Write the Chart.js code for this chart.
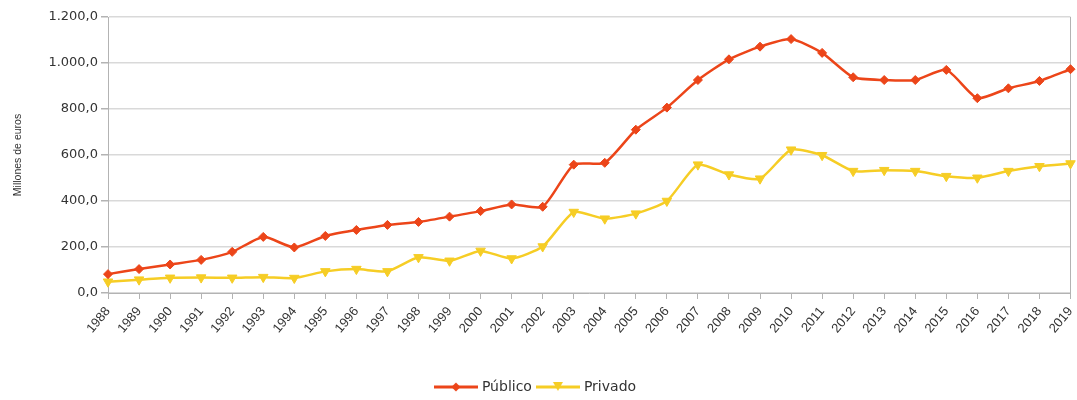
<!DOCTYPE html>
<html><head><meta charset="utf-8">
<script src="https://cdn.jsdelivr.net/npm/chart.js@4"></script>
<style>html,body{margin:0;padding:0;background:#fff}#wrap{width:1077px;height:400px}</style>
</head><body><div id="wrap"><canvas id="c"></canvas></div>
<script>
const years = ["1988","1989","1990","1991","1992","1993","1994","1995","1996","1997","1998","1999","2000","2001","2002","2003","2004","2005","2006","2007","2008","2009","2010","2011","2012","2013","2014","2015","2016","2017","2018","2019"];
const publico = [82,104,124,144,179,244,198,248,274,296,309,332,356,385,375,558,566,710,806,926,1016,1071,1104,1044,938,926,926,970,847,890,922,973];
const privado = [49,58,66,67,66,69,65,94,104,94,155,140,183,150,202,352,323,345,400,558,515,497,623,599,530,534,530,508,501,530,551,563];
const seriesNames = ["Público","Privado"];
const yTitle = "Millones de euros";

const colPub = "#ec4519", colPriv = "#f6cd25";
const fontLib = "'Liberation Sans', Arial, sans-serif";
const fontDV = "'DejaVu Sans', sans-serif";

function fmt(v){
  const s = Math.abs(v).toFixed(1).split(".");
  const int = s[0].replace(/\B(?=(\d{3})+(?!\d))/g, ".");
  return (v<0?"-":"") + int + "," + s[1];
}
function legendIcon(color, kind){
  const c = document.createElement("canvas");
  c.width = 44; c.height = 12;
  const g = c.getContext("2d");
  g.strokeStyle = color; g.fillStyle = color; g.lineWidth = 3;
  g.beginPath(); g.moveTo(0,6); g.lineTo(44,6); g.stroke();
  g.beginPath();
  if(kind === "diamond"){ g.moveTo(22,1.5); g.lineTo(26.5,6); g.lineTo(22,10.5); g.lineTo(17.5,6); }
  else { g.moveTo(17,1); g.lineTo(27,1); g.lineTo(22,10); }
  g.closePath(); g.fill();
  return c;
}
const icons = [legendIcon(colPub,"diamond"), legendIcon(colPriv,"tri")];

new Chart(document.getElementById("c"), {
  type: "line",
  data: {
    labels: years,
    datasets: [
      {label: seriesNames[0], data: publico, borderColor: colPub, backgroundColor: colPub, borderWidth: 2.5,
       pointStyle: "rectRot", pointRadius: 4.5, pointHoverRadius: 4.5, pointBorderWidth: 1, tension: 0.2},
      {label: seriesNames[1], data: privado, borderColor: colPriv, backgroundColor: colPriv, borderWidth: 2.5,
       pointStyle: "triangle", rotation: 180, pointRadius: 5.5, pointHoverRadius: 5.5, pointBorderWidth: 1, tension: 0.2}
    ]
  },
  options: {
    responsive: true, maintainAspectRatio: false, animation: false,
    layout: {padding: {top: 17, right: 4, left: 0, bottom: -4}},
    plugins: {
      tooltip: {enabled: false},
      legend: {
        position: "bottom",
        labels: {
          usePointStyle: true, pointStyleWidth: 38, boxHeight: 12, padding: 7,
          color: "#333", font: {family: fontDV, size: 14},
          generateLabels: (chart) => chart.data.datasets.map((d,i) => ({
            text: d.label, pointStyle: icons[i], fillStyle: d.borderColor, strokeStyle: d.borderColor,
            lineWidth: 0, hidden: false, datasetIndex: i, fontColor: "#333"
          }))
        }
      }
    },
    scales: {
      x: {
        offset: false,
        grid: {drawOnChartArea: false, drawTicks: true, tickLength: 6, color: "#b3b3b3"},
        border: {color: "#b3b3b3", width: 1},
        ticks: {color: "#333", font: {family: fontLib, size: 13}, maxRotation: 50, minRotation: 50, autoSkip: false, padding: 5},
        afterFit: (s) => { s.height = 80; s.paddingRight = 0; s.paddingLeft = 0; }
      },
      y: {
        min: 0, max: 1200,
        ticks: {stepSize: 200, color: "#333", font: {family: fontDV, size: 13}, callback: (v) => fmt(v), padding: 3},
        grid: {color: "#d9d9d9", lineWidth: 1.5, tickLength: 7, tickColor: "#b3b3b3"},
        border: {color: "#b3b3b3", width: 1},
        title: {display: true, text: yTitle, color: "#333", font: {family: fontLib, size: 10.5}, padding: {top: 12, bottom: 0}},
        afterFit: (s) => { s.width = 108; }
      },
      y2: {
        position: "right", min: 0, max: 1200,
        ticks: {display: false}, grid: {display: false, drawTicks: false},
        border: {display: true, color: "#b3b3b3", width: 1},
        afterFit: (s) => { s.width = 0; }
      }
    }
  }
});
</script>
</body></html>
